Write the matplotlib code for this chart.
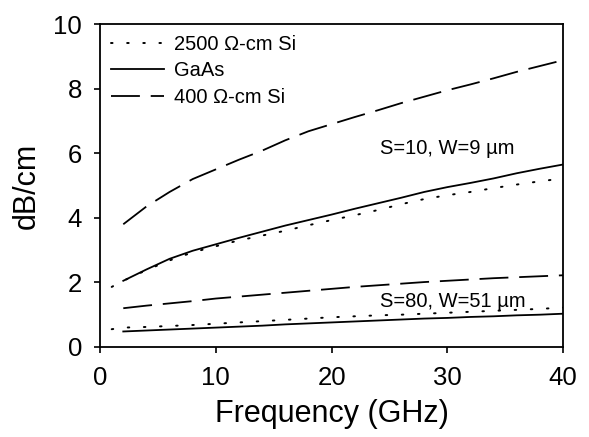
import matplotlib
matplotlib.use("Agg")
import matplotlib.pyplot as plt

plt.rcParams['font.family'] = ['Liberation Sans', 'DejaVu Sans']

# frequency points (GHz)
freq = [2, 4, 6, 8, 10, 12, 14, 16, 18, 20, 22, 24, 26, 28, 30, 32, 34, 36, 38, 40]
freq_dot = [1] + freq

# S=10, W=9 um
si400_s10 = [3.8, 4.35, 4.8, 5.2, 5.5, 5.8, 6.08, 6.4, 6.68, 6.9,
             7.12, 7.33, 7.55, 7.75, 7.95, 8.13, 8.32, 8.52, 8.7, 8.88]
gaas_s10 = [2.05, 2.4, 2.73, 2.98, 3.18, 3.38, 3.57, 3.76, 3.93, 4.1,
            4.28, 4.45, 4.62, 4.8, 4.95, 5.08, 5.22, 5.38, 5.52, 5.65]
si2500_s10 = [1.86, 2.05, 2.38, 2.68, 2.93, 3.12, 3.3, 3.45, 3.6, 3.77, 3.93,
              4.08, 4.24, 4.42, 4.58, 4.7, 4.8, 4.92, 5.03, 5.13, 5.22]

# S=80, W=51 um
si400_s80 = [1.2, 1.28, 1.35, 1.42, 1.5, 1.56, 1.62, 1.68, 1.74, 1.8,
             1.86, 1.91, 1.96, 2.01, 2.05, 2.09, 2.13, 2.16, 2.19, 2.22]
gaas_s80 = [0.48, 0.51, 0.54, 0.57, 0.6, 0.63, 0.66, 0.7, 0.73, 0.76,
            0.79, 0.82, 0.85, 0.88, 0.9, 0.93, 0.95, 0.98, 1.0, 1.03]
si2500_s80 = [0.55, 0.6, 0.62, 0.65, 0.68, 0.72, 0.76, 0.8, 0.84, 0.88, 0.92,
              0.95, 0.98, 1.0, 1.03, 1.06, 1.09, 1.12, 1.15, 1.18, 1.22]

fig = plt.figure(figsize=(5.89, 4.37), dpi=100)
ax = fig.add_axes([0.170, 0.206, 0.786, 0.739])

dot_style = dict(color="black", lw=1.4, linestyle=(0, (0.8, 7.5)), dash_capstyle="round")
dash_style = dict(color="black", lw=1.3, dashes=(16, 6))
solid_style = dict(color="black", lw=1.3)

ax.plot(freq_dot, si2500_s10, label="2500 \u03a9-cm Si", **dot_style)
ax.plot(freq, gaas_s10, label="GaAs", **solid_style)
ax.plot(freq, si400_s10, label="400 \u03a9-cm Si", **dash_style)

ax.plot(freq_dot, si2500_s80, **dot_style)
ax.plot(freq, gaas_s80, **solid_style)
ax.plot(freq, si400_s80, **dash_style)

ax.text(24.2, 6.15, "S=10, W=9 \u00b5m", fontsize=14.5, va="center", ha="left")
ax.text(24.2, 1.4, "S=80, W=51 \u00b5m", fontsize=14.5, va="center", ha="left")

ax.set_xlim(0, 40)
ax.set_ylim(0, 10)
ax.set_xticks([0, 10, 20, 30, 40])
ax.set_yticks([0, 2, 4, 6, 8, 10])
ax.tick_params(axis="x", direction="out", labelsize=18.5, length=4, width=1.2, pad=10)
ax.tick_params(axis="y", direction="out", labelsize=18.5, length=4, width=1.2, pad=9)
ax.tick_params(top=False, right=False)
for s in ax.spines.values():
    s.set_linewidth(1.3)

ax.set_xlabel("Frequency (GHz)", fontsize=22, labelpad=6)
ax.set_ylabel("dB/cm", fontsize=22, labelpad=8)

ax.legend(loc="upper left", frameon=False, fontsize=14.5, handlelength=2.6,
          handletextpad=0.5, labelspacing=0.36, borderaxespad=0.15,
          bbox_to_anchor=(0.0, 1.0))

fig.savefig("out.png", dpi=100)
